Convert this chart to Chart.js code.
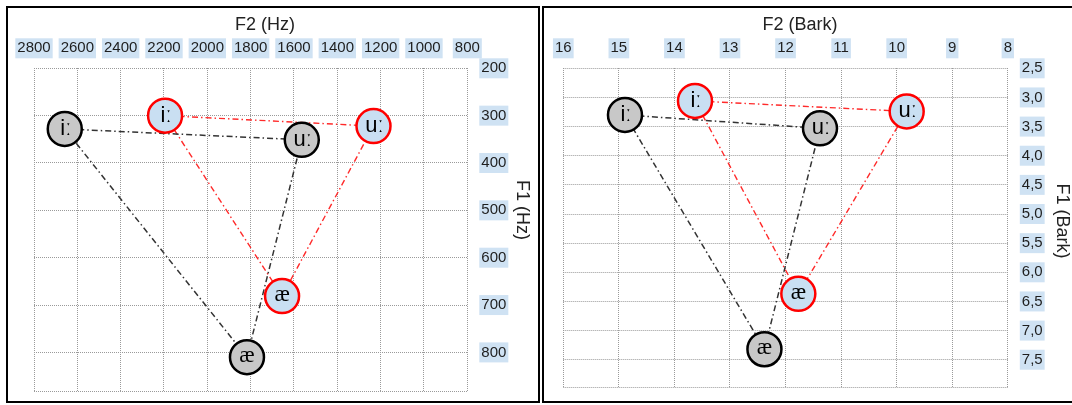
<!DOCTYPE html>
<html><head><meta charset="utf-8">
<script src="https://cdn.jsdelivr.net/npm/chart.js@4/dist/chart.umd.min.js"></script>
<style>
html,body{margin:0;padding:0;background:#fff;overflow:hidden;width:1072px;height:405px;}
.panel{position:absolute;top:6px;width:534px;height:397px;border:2px solid #000;box-sizing:border-box;background:#fff;}
#p1{left:6px;} #p2{left:542px;}
canvas{display:block;}
</style></head><body>
<div class="panel" id="p1"><canvas id="c1" width="530" height="393"></canvas></div>
<div class="panel" id="p2"><canvas id="c2" width="530" height="393"></canvas></div>
<script>
// ---- data ----
const vowels = ['iː', 'uː', 'æ'];
// Hz chart
const hzF2Black = [2658, 1564, 1817];
const hzF1Black = [328, 351, 810];
const hzF2Red = [2195, 1233, 1655];
const hzF1Red = [300, 322, 681];
const hzXTicks = [800, 1000, 1200, 1400, 1600, 1800, 2000, 2200, 2400, 2600, 2800];
const hzYTicks = [200, 300, 400, 500, 600, 700, 800];
// Bark chart
const barkF2Black = [14.89, 11.38, 12.38];
const barkF1Black = [3.30, 3.53, 7.32];
const barkF2Red = [13.63, 9.82, 11.77];
const barkF1Red = [3.06, 3.24, 6.37];
const barkXTicks = [8, 9, 10, 11, 12, 13, 14, 15, 16];
const barkYTicks = [2.5, 3.0, 3.5, 4.0, 4.5, 5.0, 5.5, 6.0, 6.5, 7.0, 7.5];

const TICK_FONT = {family: "'Liberation Sans', Arial, sans-serif", size: 15, lineHeight: 1.2};
const TICK_COLOR = '#1e1e1e';
const BACKDROP = '#cfe2f3';

function pts(xs, ys) { return xs.map((x, i) => ({x: x, y: ys[i]})); }
function closed(arr) { return arr.concat([arr[0]]); }

const labelPlugin = {
  id: 'vowelLabels',
  afterDatasetsDraw(chart) {
    const ctx = chart.ctx;
    chart.data.datasets.forEach((ds, di) => {
      if (!ds.vowelLabels) return;
      const meta = chart.getDatasetMeta(di);
      meta.data.forEach((el, i) => {
        const t = ds.vowelLabels[i];
        ctx.save();
        ctx.fillStyle = '#000';
        ctx.textAlign = 'center';
        ctx.textBaseline = 'middle';
        if (t === 'æ') {
          ctx.font = "23px 'Liberation Serif', 'DejaVu Serif', serif";
          ctx.fillText(t, el.x, el.y - 1);
        } else {
          ctx.font = "22px 'Liberation Sans', 'DejaVu Sans', sans-serif";
          ctx.fillText(t, el.x + 1, el.y);
        }
        ctx.restore();
      });
    });
  }
};

const titlePlugin = {
  id: 'axisTitles',
  afterDraw(chart, args, opts) {
    const ctx = chart.ctx;
    (opts.items || []).forEach(it => {
      ctx.save();
      ctx.fillStyle = '#222';
      ctx.font = "18px 'Liberation Sans', Arial, sans-serif";
      ctx.textAlign = 'center';
      ctx.textBaseline = 'middle';
      ctx.translate(it.x, it.y);
      if (it.rot) ctx.rotate(Math.PI / 2);
      ctx.fillText(it.text, 0, 0);
      ctx.restore();
    });
  }
};

function noPad(s) { s.paddingLeft = 0; s.paddingRight = 0; s.paddingTop = 0; s.paddingBottom = 0; }

function makeChart(id, c) {
  const yAll = c.yTicks.concat([c.yMax]);
  return new Chart(document.getElementById(id), {
    type: 'scatter',
    data: {
      datasets: [
        {data: pts(c.f2Black, c.f1Black), vowelLabels: vowels, showLine: false,
         pointRadius: 17, pointHoverRadius: 17, pointBorderWidth: 2.5, pointBackgroundColor: '#c8c8c8', pointBorderColor: '#000', order: 0},
        {data: pts(c.f2Red, c.f1Red), vowelLabels: vowels, showLine: false,
         pointRadius: 17, pointHoverRadius: 17, pointBorderWidth: 2.5, pointBackgroundColor: '#c9dff2', pointBorderColor: '#ff0000', order: 0},
        {data: closed(pts(c.f2Black, c.f1Black)), showLine: true, pointRadius: 0, fill: false,
         borderColor: '#333', borderWidth: 1.5, borderDash: [6, 3, 1.5, 3], order: 1},
        {data: closed(pts(c.f2Red, c.f1Red)), showLine: true, pointRadius: 0, fill: false,
         borderColor: '#ff2a2a', borderWidth: 1.4, borderDash: [6, 3, 1.5, 3], order: 1}
      ]
    },
    options: {
      responsive: false, animation: false, devicePixelRatio: 1,
      layout: {autoPadding: false, padding: {left: c.padL, right: 0, top: 0, bottom: c.padB}},
      plugins: {legend: {display: false}, tooltip: {enabled: false}, axisTitles: {items: c.titles}},
      scales: {
        x: {
          type: 'linear', position: 'top', reverse: true, min: c.xMin, max: c.xMax,
          afterBuildTicks: s => { s.ticks = c.xTicks.map(v => ({value: v})); },
          afterFit: s => { s.height = c.xHeight; noPad(s); },
          grid: {color: '#9a9a9a', lineWidth: 1, drawTicks: false},
          border: {display: false, dash: [1, 1]},
          ticks: {padding: 11, font: TICK_FONT, color: TICK_COLOR, autoSkip: false, maxRotation: 0, minRotation: 0,
                  showLabelBackdrop: true, backdropColor: BACKDROP,
                  backdropPadding: {top: 1, bottom: 1, left: 2, right: 2},
                  callback: v => c.fmtX(v)}
        },
        y: {
          type: 'linear', position: 'right', reverse: true, min: c.yMin, max: c.yMax,
          afterBuildTicks: s => { s.ticks = yAll.map(v => ({value: v})); },
          afterFit: s => { s.width = c.yWidth; noPad(s); },
          grid: {color: '#9a9a9a', lineWidth: 1, drawTicks: false},
          border: {display: false, dash: [1, 1]},
          ticks: {padding: 14, font: TICK_FONT, color: TICK_COLOR, autoSkip: false,
                  showLabelBackdrop: ctx => c.yTicks.includes(ctx.tick.value),
                  backdropColor: BACKDROP,
                  backdropPadding: {top: 1, bottom: 1, left: 2, right: 2},
                  callback: v => c.yTicks.includes(v) ? c.fmtY(v) : ''}
        }
      }
    },
    plugins: [labelPlugin, titlePlugin]
  });
}

makeChart('c1', {
  f2Black: hzF2Black, f1Black: hzF1Black, f2Red: hzF2Red, f1Red: hzF1Red,
  xMin: 800, xMax: 2800, xTicks: hzXTicks, yMin: 200, yMax: 883, yTicks: hzYTicks,
  fmtX: v => String(v), fmtY: v => String(v),
  padL: 26, padB: 9.3, xHeight: 60.3, yWidth: 70.7,
  titles: [{text: 'F2 (Hz)', x: 257, y: 17}, {text: 'F1 (Hz)', x: 513.5, y: 202, rot: true}]
});
makeChart('c2', {
  f2Black: barkF2Black, f1Black: barkF1Black, f2Red: barkF2Red, f1Red: barkF1Red,
  xMin: 8, xMax: 16, xTicks: barkXTicks, yMin: 2.5, yMax: 7.98, yTicks: barkYTicks,
  fmtX: v => String(v), fmtY: v => v.toFixed(1).replace('.', ','),
  padL: 19.3, padB: 13.3, xHeight: 60.3, yWidth: 66.2,
  titles: [{text: 'F2 (Bark)', x: 256, y: 17.5}, {text: 'F1 (Bark)', x: 517.5, y: 213, rot: true}]
});
</script>
</body></html>
